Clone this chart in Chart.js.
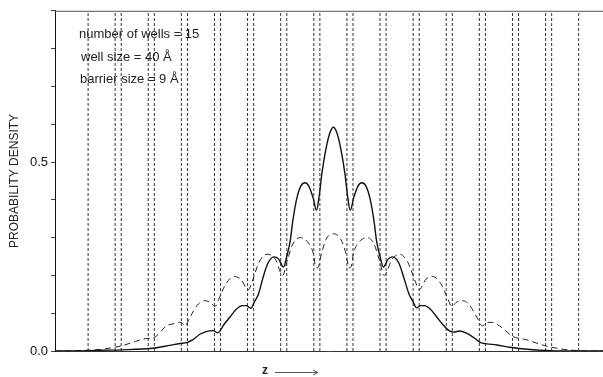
<!DOCTYPE html>
<html>
<head>
<meta charset="utf-8">
<title>Probability density</title>
<script src="https://cdn.jsdelivr.net/npm/chart.js@4.4.1/dist/chart.umd.min.js"></script>
<style>
    html, body { margin: 0; padding: 0; background: #fff; }
    canvas { display: block; }
</style>
</head>
<body>
<canvas id="density-chart" width="603" height="377"></canvas>
<script>
// z in Angstrom, measured from the left edge of the first well
var boundaries = [0, 40, 49, 89, 98, 138, 147, 187, 196, 236, 245, 285, 294, 334, 343,
    383, 392, 432, 441, 481, 490, 530, 539, 579, 588, 628, 637, 677, 686, 726];

var zSolid = [-49, 0, 18, 50, 99, 121, 136, 146, 155, 166, 176, 185, 192, 201, 210, 219, 228, 234,
    241, 246, 252, 259, 266, 275, 282, 289, 294, 299, 303, 309, 315, 321, 327, 333, 338, 342, 346,
    352, 358, 363, 368, 374, 380, 384, 388, 393, 399, 405, 411, 417, 423, 427, 432, 437, 444, 451,
    460, 467, 475, 481, 486, 492, 498, 507, 516, 525, 534, 541, 550, 560, 571, 581, 590, 605, 624,
    654, 683, 726, 762];
var solidDensity = [0, 0.001, 0.002, 0.003, 0.008, 0.015, 0.02, 0.022, 0.03, 0.045, 0.052, 0.054,
    0.048, 0.07, 0.09, 0.11, 0.12, 0.12, 0.113, 0.13, 0.15, 0.195, 0.232, 0.249, 0.243, 0.222, 0.25,
    0.29, 0.345, 0.405, 0.437, 0.445, 0.435, 0.405, 0.372, 0.41, 0.47, 0.535, 0.578, 0.592, 0.578,
    0.535, 0.47, 0.41, 0.372, 0.405, 0.435, 0.445, 0.437, 0.405, 0.345, 0.29, 0.25, 0.222, 0.243,
    0.249, 0.232, 0.195, 0.15, 0.13, 0.114, 0.12, 0.12, 0.11, 0.09, 0.07, 0.054, 0.05, 0.053, 0.047,
    0.035, 0.022, 0.019, 0.016, 0.01, 0.004, 0.001, 0, 0];

var zDashed = [-49, 0, 18, 40, 50, 70, 80, 92, 99, 107, 115, 126, 135, 139, 143, 151, 161, 172, 180,
    188, 194, 204, 216, 226, 237, 243, 253, 265, 277, 288, 294, 303, 314, 324, 333, 337, 340, 345,
    352, 363, 374, 382, 386, 389, 393, 402, 413, 423, 432, 438, 450, 461, 473, 484, 490, 500, 510,
    522, 532, 538, 546, 555, 565, 575, 584, 588, 596, 606, 617, 627, 636, 646, 657, 676, 686, 705,
    726, 762];
var dashedDensity = [0, 0.002, 0.004, 0.01, 0.014, 0.025, 0.031, 0.034, 0.037, 0.05, 0.066, 0.072,
    0.076, 0.074, 0.066, 0.09, 0.12, 0.133, 0.13, 0.118, 0.14, 0.178, 0.197, 0.19, 0.162, 0.185,
    0.235, 0.256, 0.243, 0.2, 0.235, 0.283, 0.3, 0.29, 0.26, 0.222, 0.22, 0.255, 0.295, 0.31, 0.295,
    0.255, 0.22, 0.222, 0.26, 0.29, 0.3, 0.283, 0.235, 0.2, 0.243, 0.256, 0.235, 0.185, 0.162, 0.19,
    0.197, 0.178, 0.14, 0.118, 0.13, 0.133, 0.12, 0.09, 0.066, 0.074, 0.076, 0.07, 0.055, 0.04, 0.034,
    0.031, 0.025, 0.014, 0.01, 0.004, 0.001, 0];

var notes = ['number of wells = 15', 'well size = 40 \u00C5', 'barrier size = 9 \u00C5'];
var yLabels = [0, 0.5];

function toPoints(xs, ys) {
    return xs.map(function (x, i) { return { x: x, y: ys[i] }; });
}

var datasets = [
    {
        data: toPoints(zSolid, solidDensity),
        borderColor: '#111',
        borderWidth: 1.4,
        pointRadius: 0,
        cubicInterpolationMode: 'monotone',
        fill: false
    },
    {
        data: toPoints(zDashed, dashedDensity),
        borderColor: '#222',
        borderWidth: 1,
        borderDash: [6, 4],
        pointRadius: 0,
        cubicInterpolationMode: 'monotone',
        fill: false
    }
];
boundaries.forEach(function (b) {
    datasets.push({
        data: [{ x: b, y: 0 }, { x: b, y: 0.9 }],
        borderColor: '#333',
        borderWidth: 1,
        borderDash: [3, 2],
        pointRadius: 0,
        fill: false
    });
});

var decorations = {
    id: 'decorations',
    afterDraw: function (chart) {
        var ctx = chart.ctx;
        var area = chart.chartArea;
        ctx.save();
        // top frame line
        ctx.strokeStyle = '#555';
        ctx.lineWidth = 1;
        ctx.beginPath();
        ctx.moveTo(area.left, area.top + 0.5);
        ctx.lineTo(area.right, area.top + 0.5);
        ctx.stroke();

        // structure notes
        ctx.fillStyle = '#222';
        ctx.font = '13px "Liberation Sans", Arial, sans-serif';
        ctx.textBaseline = 'middle';
        ctx.textAlign = 'left';
        ctx.fillText(notes[0], area.left + 24, 34);
        ctx.fillText(notes[1], area.left + 26, 57);
        ctx.fillText(notes[2], area.left + 25, 79);

        // z axis label with arrow
        ctx.font = 'bold 12px "Liberation Sans", Arial, sans-serif';
        ctx.fillText('z', 262, 371);
        ctx.beginPath();
        ctx.moveTo(275, 372.5);
        ctx.lineTo(318, 372.5);
        ctx.stroke();
        ctx.beginPath();
        ctx.moveTo(313, 370);
        ctx.lineTo(318, 372.5);
        ctx.lineTo(313, 375);
        ctx.stroke();
        ctx.restore();
    }
};

var ctx = document.getElementById('density-chart').getContext('2d');
var chart = new Chart(ctx, {
    type: 'line',
    data: { datasets: datasets },
    plugins: [decorations],
    options: {
        responsive: false,
        animation: false,
        layout: { padding: { top: 7, left: 0, right: 0, bottom: 0 } },
        plugins: {
            legend: { display: false },
            tooltip: { enabled: false }
        },
        scales: {
            x: {
                type: 'linear',
                min: -49,
                max: 762,
                ticks: { display: false },
                grid: { display: false },
                border: { display: true, color: '#333', width: 1 },
                afterFit: function (scale) { scale.height = 26; }
            },
            y: {
                min: 0,
                max: 0.9,
                ticks: {
                    stepSize: 0.1,
                    padding: 3,
                    color: '#111',
                    font: { family: '"Liberation Sans", Arial, sans-serif', size: 13 },
                    callback: function (value) {
                        var v = Math.round(value * 10) / 10;
                        return yLabels.indexOf(v) >= 0 ? v.toFixed(1) : '';
                    }
                },
                grid: { drawOnChartArea: false, drawTicks: true, tickLength: 4, color: '#444' },
                border: { display: true, color: '#111', width: 1 },
                title: {
                    display: true,
                    text: 'PROBABILITY DENSITY',
                    color: '#222',
                    padding: { top: 7, bottom: 0 },
                    font: { family: '"Liberation Sans", Arial, sans-serif', size: 12 }
                },
                afterFit: function (scale) { scale.width = 55; }
            }
        }
    }
});
</script>
</body>
</html>
